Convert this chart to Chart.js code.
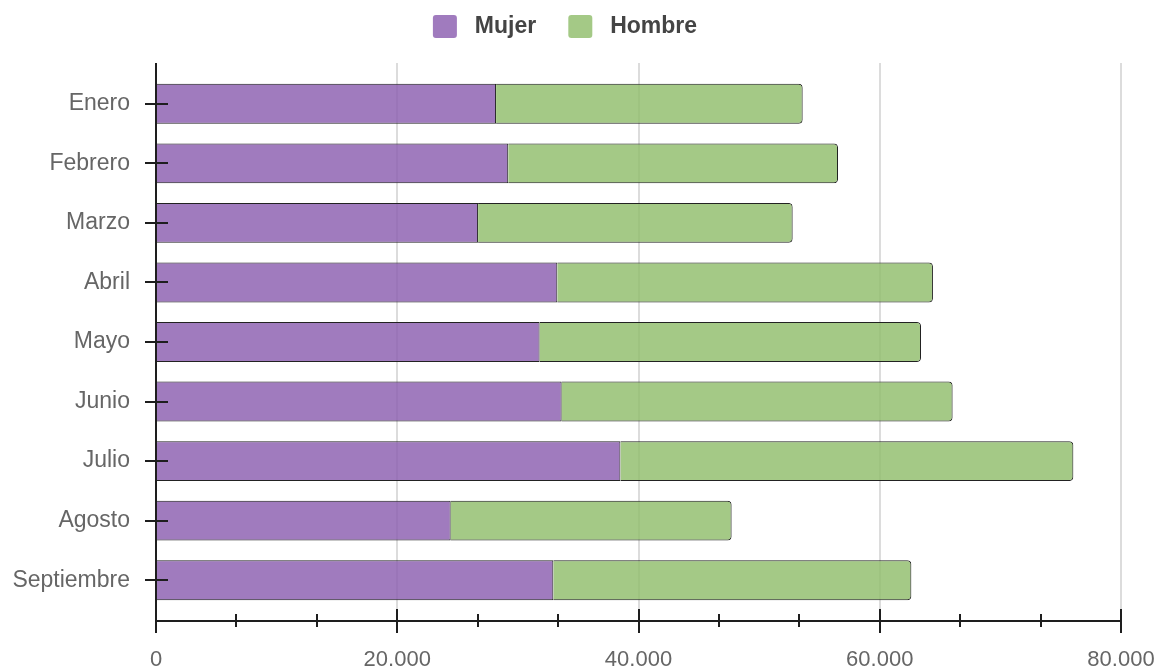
<!DOCTYPE html>
<html>
<head>
<meta charset="utf-8">
<title>Mujer / Hombre por mes</title>
<script src="https://cdn.jsdelivr.net/npm/chart.js@4.4.0/dist/chart.umd.min.js"></script>
<style>
    html, body { margin: 0; padding: 0; background: #fff; }
    #contenedor { width: 1160px; height: 667px; }
</style>
</head>
<body>
<div id="contenedor"><canvas id="myChart"></canvas></div>
<script>
// Datos

const meses = ['Enero', 'Febrero', 'Marzo', 'Abril', 'Mayo', 'Junio', 'Julio', 'Agosto', 'Septiembre'];
const mujer = [28190, 29200, 26700, 33270, 31800, 33630, 38500, 24430, 32940];
const hombre = [25420, 27340, 26080, 31140, 31620, 32410, 37550, 23290, 29680];
const xTicks = [0, 20000, 40000, 60000, 80000];
const marcasPorTramo = 3;

function miles(v) {
    return String(Math.round(v)).replace(/\B(?=(\d{3})+(?!\d))/g, '.');
}

// deja más aire entre la leyenda y las barras
const espacioLeyenda = {
    id: 'espacioLeyenda',
    beforeInit(chart) {
        const fitOriginal = chart.legend.fit;
        chart.legend.fit = function () {
            fitOriginal.bind(chart.legend)();
            this.height += 26;
        };
    }
};

// rejilla, ejes y marcas dibujados a mano
const ejes = {
    id: 'ejes',
    beforeDatasetsDraw(chart) {
        const { ctx, chartArea } = chart;
        const x = chart.scales.x;
        const arriba = chartArea.top - 11;
        const base = chartArea.bottom + 11;
        ctx.save();
        ctx.strokeStyle = '#d0d0d0';
        ctx.lineWidth = 1.5;
        xTicks.forEach((v) => {
            if (v === 0) return;
            const px = Math.round(x.getPixelForValue(v));
            ctx.beginPath();
            ctx.moveTo(px, arriba);
            ctx.lineTo(px, base);
            ctx.stroke();
        });
        ctx.restore();
    },
    afterDatasetsDraw(chart) {
        const { ctx, chartArea } = chart;
        const x = chart.scales.x;
        const y = chart.scales.y;
        const x0 = Math.round(x.getPixelForValue(0));
        const base = Math.round(chartArea.bottom + 11);
        ctx.save();
        ctx.strokeStyle = '#1e1e1e';
        ctx.lineWidth = 2;

        // eje vertical
        ctx.beginPath();
        ctx.moveTo(x0, chartArea.top - 11);
        ctx.lineTo(x0, base + 12);
        ctx.stroke();

        // eje horizontal
        const xFin = Math.round(x.getPixelForValue(xTicks[xTicks.length - 1]));
        ctx.beginPath();
        ctx.moveTo(x0, base);
        ctx.lineTo(xFin, base);
        ctx.stroke();

        // marcas de categorías
        meses.forEach((m, i) => {
            const py = Math.round(y.getPixelForValue(i));
            ctx.beginPath();
            ctx.moveTo(x0 - 11, py);
            ctx.lineTo(x0 + 12, py);
            ctx.stroke();
        });

        // marcas principales y secundarias del eje x
        xTicks.forEach((v, i) => {
            const px = Math.round(x.getPixelForValue(v));
            ctx.beginPath();
            ctx.moveTo(px, base - 12);
            ctx.lineTo(px, base + 12);
            ctx.stroke();
            if (i < xTicks.length - 1) {
                const paso = (xTicks[i + 1] - v) / marcasPorTramo;
                for (let k = 1; k < marcasPorTramo; k++) {
                    const pm = Math.round(x.getPixelForValue(v + paso * k));
                    ctx.beginPath();
                    ctx.moveTo(pm, base - 7);
                    ctx.lineTo(pm, base + 6);
                    ctx.stroke();
                }
            }
        });
        ctx.restore();
    }
};

const ctx = document.getElementById('myChart').getContext('2d');

const myChart = new Chart(ctx, {
    type: 'bar',
    data: {
        labels: meses,
        datasets: [{
            label: 'Mujer',
            data: mujer,
            backgroundColor: 'rgba(143, 100, 179, 0.85)',
            borderColor: '#222',
            borderWidth: 1,
            borderRadius: 4,
            barPercentage: 0.67,
            categoryPercentage: 1
        }, {
            label: 'Hombre',
            data: hombre,
            backgroundColor: 'rgba(148, 191, 113, 0.85)',
            borderColor: '#222',
            borderWidth: 1,
            borderRadius: 4,
            barPercentage: 0.67,
            categoryPercentage: 1
        }]
    },
    options: {
        indexAxis: 'y',
        responsive: true,
        maintainAspectRatio: false,
        animation: false,
        layout: {
            padding: { top: 2, left: 9, right: 39, bottom: 0 }
        },
        plugins: {
            legend: {
                position: 'top',
                labels: {
                    boxWidth: 24,
                    boxHeight: 23,
                    padding: 13,
                    useBorderRadius: true,
                    borderRadius: 3,
                    color: '#444',
                    font: { family: 'Liberation Sans, Arial, sans-serif', size: 23, weight: 'bold' },
                    generateLabels(chart) {
                        return chart.data.datasets.map((ds, i) => ({
                            text: ' ' + ds.label + (i === 0 ? '   ' : ''),
                            fillStyle: ds.backgroundColor,
                            strokeStyle: ds.backgroundColor,
                            lineWidth: 0,
                            hidden: !chart.isDatasetVisible(i),
                            datasetIndex: i,
                            borderRadius: 3,
                            fontColor: '#444'
                        }));
                    }
                }
            },
            tooltip: { enabled: false }
        },
        scales: {
            x: {
                stacked: true,
                min: 0,
                max: 80000,
                grid: { display: false },
                border: { display: false },
                ticks: {
                    stepSize: 20000,
                    padding: 29,
                    maxRotation: 0,
                    autoSkip: false,
                    color: '#666',
                    font: { family: 'Liberation Sans, Arial, sans-serif', size: 22 },
                    callback: (v) => miles(v)
                },
                afterFit(scale) {
                    scale.height = 57;
                    scale.paddingLeft = 0;
                    scale.paddingRight = 0;
                }
            },
            y: {
                stacked: true,
                grid: { display: false },
                border: { display: false },
                ticks: {
                    padding: 18,
                    color: '#666',
                    font: { family: 'Liberation Sans, Arial, sans-serif', size: 23 }
                },
                afterFit(scale) {
                    scale.width = 147;
                }
            }
        }
    },
    plugins: [espacioLeyenda, ejes]
});
</script>
</body>
</html>
